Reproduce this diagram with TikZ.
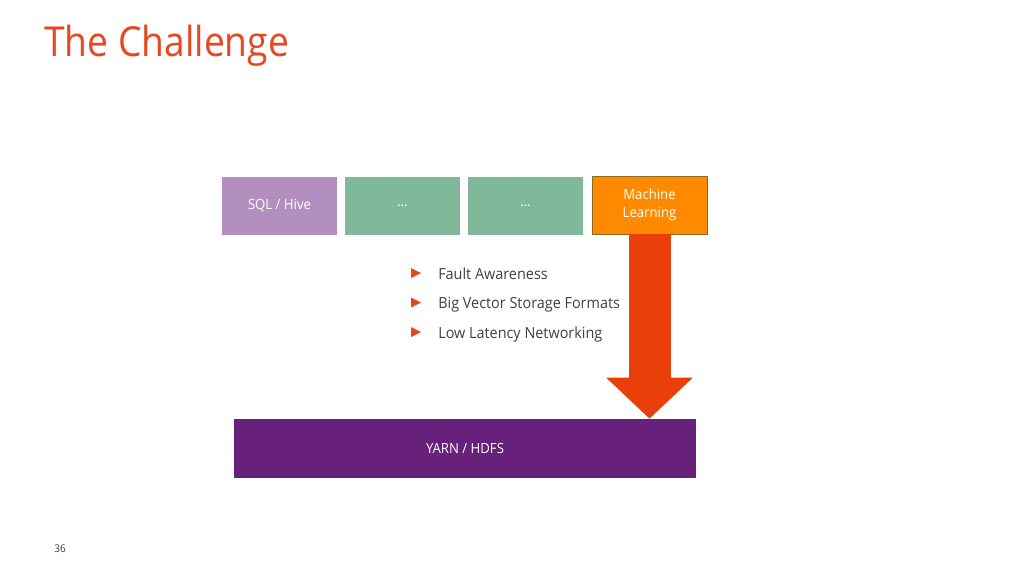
\documentclass[tikz,border=0pt]{standalone}
\usepackage{fontspec}
\setmainfont[FakeStretch=0.94]{Open Sans}
\newfontfamily\titlefont[FakeStretch=0.9]{Open Sans}
\usetikzlibrary{arrows.meta}
\definecolor{titlered}{HTML}{E8461E}
\definecolor{sqlpurple}{HTML}{B28FBF}
\definecolor{dotsgreen}{HTML}{80B99A}
\definecolor{mlorange}{HTML}{FF8A00}
\definecolor{mlborder}{HTML}{8C6A1E}
\definecolor{yarnpurple}{HTML}{68217A}
\definecolor{arrowred}{HTML}{EA3E0B}
\definecolor{bodygray}{HTML}{404040}
\tikzset{
  layerbox/.style={inner sep=0pt, minimum width=86.25pt, minimum height=43.5pt,
    text=white, font=\fontsize{10.5}{13.5}\selectfont, align=center},
  itemtext/.style={anchor=base west, inner sep=0pt, text=bodygray,
    font=\fontsize{11.5}{13}\selectfont}
}

\begin{document}
\begin{tikzpicture}[x=0.75pt, y=-0.75pt]
    \useasboundingbox[fill=white] (0,0) rectangle (1024,576);
    \node[anchor=base west, inner sep=0pt, text=titlered,
      font=\titlefont\fontsize{31}{36}\selectfont] (title) at (44,56) {The Challenge};
    \node[anchor=base west, inner sep=0pt, text=bodygray,
      font=\fontsize{8}{9}\selectfont] (page) at (54,552) {36};
    % top row
    \node[layerbox, fill=sqlpurple] (sql) at (279.5,206) {SQL / Hive};
    \node[layerbox, fill=dotsgreen] (dotsa) at (402.5,206) {\dots};
    \node[layerbox, fill=dotsgreen] (dotsb) at (525.5,206) {\dots};
    \node[layerbox, fill=mlorange, draw=mlborder, line width=0.6pt] (ml) at (649.5,205) {Machine\\Learning};
    % bottom layer
    \node[layerbox, fill=yarnpurple, minimum width=346.5pt, minimum height=44.25pt] (yarn) at (465,448.5) {YARN / HDFS};
    \draw[arrowred, line width=31.5pt, -{Triangle[width=63pt, length=30.75pt]}]
      (ml.south) -- (ml.south |- yarn.north);
    \foreach \n/\y/\t in {fault/279/Fault Awareness, vector/308.5/Big Vector Storage Formats, latency/338/Low Latency Networking} {
      \fill[titlered] (411,\y-11) -- (421,\y-6) -- (411,\y-1) -- cycle;
      \node[itemtext] (\n) at (438,\y) {\t};
    }
  \end{tikzpicture}
\end{document}
